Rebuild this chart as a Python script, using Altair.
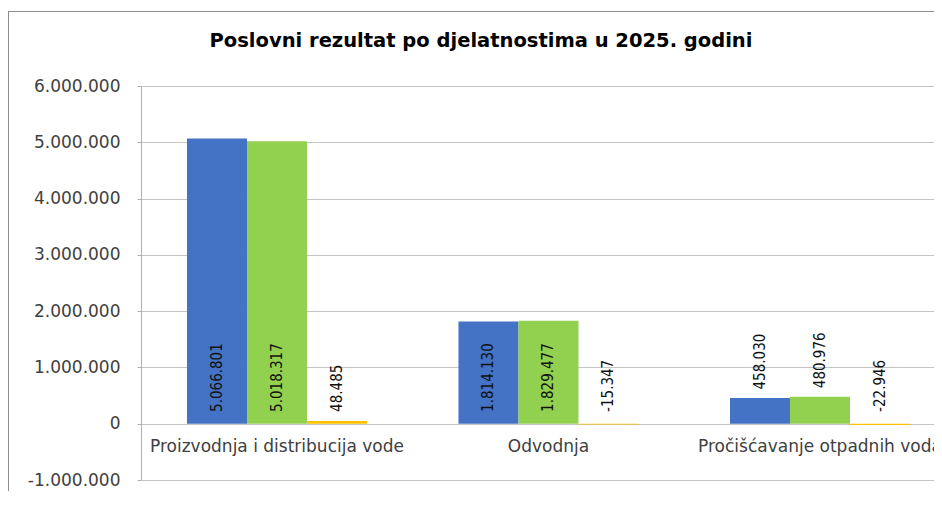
import altair as alt
import pandas as pd

categories = ["Proizvodnja i distribucija vode", "Odvodnja", "Pročišćavanje otpadnih voda"]
series = ["Prihodi", "Rashodi", "Rezultat"]
colors = ["#4472C4", "#92D050", "#FFC000"]
prihodi = [5066801, 1814130, 458030]
rashodi = [5018317, 1829477, 480976]
rezultat = [48485, -15347, -22946]
y_ticks = [-1000000, 0, 1000000, 2000000, 3000000, 4000000, 5000000, 6000000]
title_text = "Poslovni rezultat po djelatnostima u 2025. godini"

rows = []
for i, c in enumerate(categories):
    for s, vals in zip(series, [prihodi, rashodi, rezultat]):
        rows.append({"kategorija": c, "serija": s, "vrijednost": vals[i]})
df = pd.DataFrame(rows)
cat_df = pd.DataFrame({"kategorija": categories})

fmt = "replace(replace(format({v}, ','), regexp(',', 'g'), '.'), '\u2212', '-')"

x_enc = alt.X("kategorija:N", sort=categories,
              scale=alt.Scale(paddingInner=0.337, paddingOuter=0.1289, align=0.657),
              axis=None)
xo_enc = alt.XOffset("serija:N", sort=series, scale=alt.Scale(paddingInner=0, paddingOuter=0))
y_scale = alt.Scale(domain=[-1000000, 6000000], nice=False)

bars = alt.Chart(df).mark_bar().encode(
    x=x_enc,
    xOffset=xo_enc,
    y=alt.Y("vrijednost:Q", scale=y_scale, title=None,
            axis=alt.Axis(values=y_ticks, labelExpr=fmt.format(v="datum.value"),
                          grid=True, gridColor="#c4c4c4", domainColor="#b0b0b0",
                          tickColor="#b0b0b0", tickSize=4, labelPadding=17,
                          labelFont="DejaVu Sans", labelFontSize=17, labelColor="#404040")),
    color=alt.Color("serija:N", scale=alt.Scale(domain=series, range=colors), legend=None),
)

labels = alt.Chart(df).transform_calculate(
    lab=fmt.format(v="datum.vrijednost"),
    ly="(datum.vrijednost >= 1000000 || datum.vrijednost < 100000) ? 210000 : datum.vrijednost + 150000",
).mark_text(angle=270, align="left", baseline="middle",
            font="DejaVu Sans Condensed, sans-serif",
            fontSize=15, color="#111111").encode(
    x=x_enc,
    xOffset=xo_enc,
    y=alt.Y("ly:Q", scale=y_scale),
    text="lab:N",
)

cat_labels = alt.Chart(cat_df).mark_text(
    baseline="middle", dy=23, font="DejaVu Sans", fontSize=17, color="#404040"
).encode(
    x=x_enc,
    y=alt.Y(datum=0, scale=y_scale),
    text="kategorija:N",
)

title_mark = alt.Chart(cat_df).transform_filter("datum.kategorija == 'Odvodnja'").mark_text(
    baseline="middle", align="center", font="DejaVu Sans", fontSize=19.5,
    fontWeight="bold", color="#000000"
).encode(x=alt.value(340), y=alt.value(-45), text=alt.value(title_text))

border_v = alt.Chart(cat_df).mark_rule(color="#8c8c8c", strokeWidth=1).encode(
    x=alt.value(-132.5), y=alt.value(-75), y2=alt.value(600)
)
border_h = alt.Chart(cat_df).mark_rule(color="#8c8c8c", strokeWidth=1).encode(
    x=alt.value(-133), x2=alt.value(900), y=alt.value(-74.5)
)

chart = alt.layer(bars, labels, cat_labels, title_mark, border_v, border_h).properties(
    width=793, height=394,
    autosize=alt.AutoSizeParams(type="none"),
    padding={"left": 133, "top": 78, "right": 0, "bottom": 11},
).configure_view(strokeWidth=0)

chart.save("out.html", embed_options={"renderer": "svg", "actions": False})
